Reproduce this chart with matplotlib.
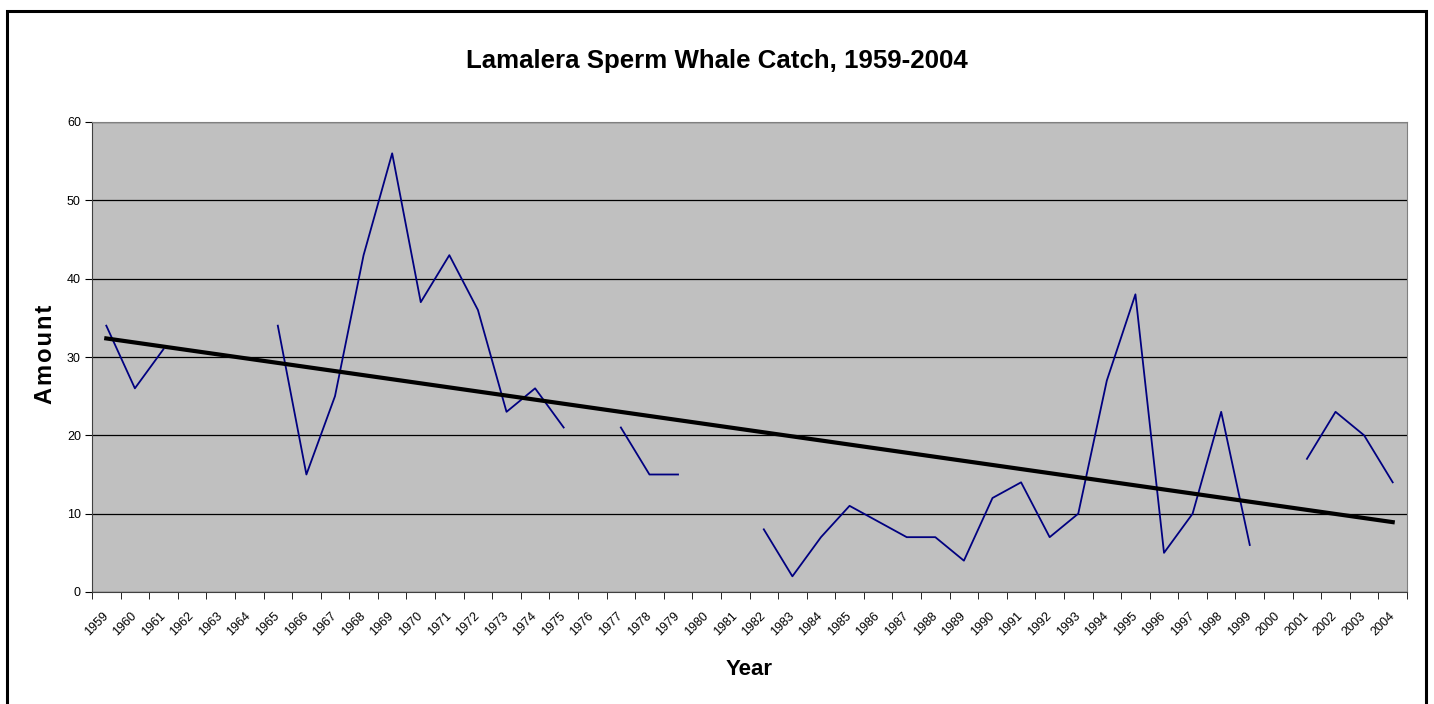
import numpy as np
import matplotlib.pyplot as plt
from matplotlib.patches import Rectangle

plt.rcParams['font.family'] = ['Liberation Sans', 'DejaVu Sans']

years = list(range(1959, 2005))
nan = np.nan
catch = [34, 26, 31, nan, nan, nan, 34, 15, 25, 43,
         56, 37, 43, 36, 23, 26, 21, nan, 21, 15,
         15, nan, nan, 8, 2, 7, 11, 9, 7, 7,
         4, 12, 14, 7, 10, 27, 38, 5, 10, 23,
         6, nan, 17, 23, 20, 14]

x = np.arange(len(years))
y = np.array(catch, dtype=float)

fig = plt.figure(figsize=(14.34, 7.04), dpi=100)
ax = fig.add_axes([92/1434, 1-592/704, (1407-92)/1434, (592-122)/704])

# outer chart border (open at bottom, like the cropped original)
fig.patches.append(Rectangle((7/1434, -0.05), (1426-7)/1434, 1.05-11/704,
                             transform=fig.transFigure, fill=False,
                             edgecolor='black', linewidth=2.2))

ax.set_facecolor('#C0C0C0')
for s in ax.spines.values():
    s.set_color('#808080')
ax.spines['bottom'].set_color('#404040')
ax.spines['left'].set_color('#404040')

ax.plot(x, y, color='#000080', linewidth=1.3, zorder=3)

ok = ~np.isnan(y)
k, b = np.polyfit(x[ok], y[ok], 1)
ax.plot([x[0], x[-1]], [k*x[0]+b, k*x[-1]+b], color='black', linewidth=3, zorder=4)

ax.set_xlim(-0.5, len(years)-0.5)
ax.set_ylim(0, 60)
ax.set_yticks(range(0, 61, 10))
ax.yaxis.grid(True, color='black', linewidth=0.9)
ax.set_axisbelow(True)
ax.tick_params(axis='y', labelsize=9, length=5, direction='out', pad=3)

ax.set_xticks(x - 0.15)
ax.set_xticklabels([str(v) for v in years], rotation=45, ha='right',
                   rotation_mode='anchor', fontsize=9)
ax.tick_params(axis='x', length=0, pad=13)
ax.set_xticks(np.arange(-0.5, len(years)), minor=True)
ax.tick_params(axis='x', which='minor', length=5, direction='out')

fig.text(45/1434, 1-354/704, '\u200a'.join('Amount'), rotation=90, fontsize=17,
         fontweight='bold', ha='center', va='center')
ax.set_xlabel('Year', fontsize=16, fontweight='bold', labelpad=15)
fig.suptitle('Lamalera Sperm Whale Catch, 1959-2004', fontsize=18.6,
             fontweight='bold', y=1-61/704, va='center')

fig.savefig('out.png', dpi=100)
